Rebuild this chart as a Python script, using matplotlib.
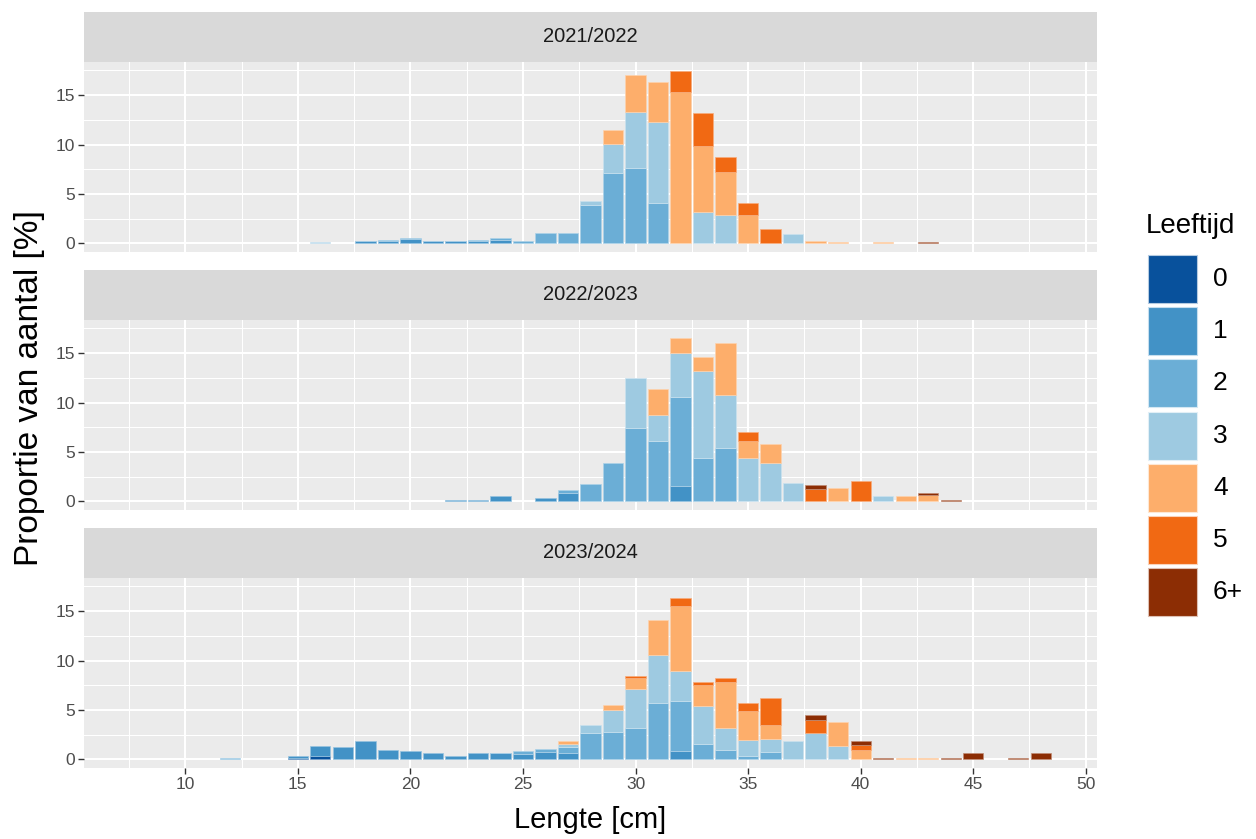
import matplotlib.pyplot as plt
from matplotlib.colors import to_rgb
from matplotlib.patches import Rectangle
import numpy as np

plt.rcParams['font.family'] = ['Liberation Sans', 'DejaVu Sans']

seasons = ['2021/2022', '2022/2023', '2023/2024']
ages = ['0', '1', '2', '3', '4', '5', '6+']
age_colors = ['#08519C', '#4292C6', '#6BAED6', '#9ECAE1', '#FDAE6B', '#F16913', '#8C2D04']

# share of numbers (%) per length class in cm, split over ages 0, 1, 2, 3, 4, 5, 6+
props_2122 = {
    16: [0, 0, 0, 0.10, 0, 0, 0],
    18: [0, 0.20, 0.05, 0, 0, 0, 0],
    19: [0, 0.28, 0.05, 0, 0, 0, 0],
    20: [0, 0.45, 0.05, 0, 0, 0, 0],
    21: [0, 0.22, 0.05, 0, 0, 0, 0],
    22: [0, 0.22, 0.05, 0, 0, 0, 0],
    23: [0, 0.20, 0.10, 0, 0, 0, 0],
    24: [0, 0.35, 0.15, 0, 0, 0, 0],
    25: [0, 0, 0.20, 0, 0, 0, 0],
    26: [0, 0, 1.00, 0, 0, 0, 0],
    27: [0, 0, 1.07, 0, 0, 0, 0],
    28: [0, 0, 3.93, 0.37, 0, 0, 0],
    29: [0, 0, 7.15, 2.88, 1.45, 0, 0],
    30: [0, 0, 7.58, 5.68, 3.79, 0, 0],
    31: [0, 0, 4.06, 8.22, 4.10, 0, 0],
    32: [0, 0, 0, 0, 15.30, 2.18, 0],
    33: [0, 0, 0, 3.22, 6.61, 3.32, 0],
    34: [0, 0, 0, 2.85, 4.33, 1.51, 0],
    35: [0, 0, 0, 0, 2.92, 1.17, 0],
    36: [0, 0, 0, 0, 0, 1.44, 0],
    37: [0, 0, 0, 0.90, 0, 0, 0],
    38: [0, 0, 0, 0, 0.20, 0, 0],
    39: [0, 0, 0, 0, 0.10, 0, 0],
    41: [0, 0, 0, 0, 0.13, 0, 0],
    43: [0, 0, 0, 0, 0, 0, 0.10],
}

props_2223 = {
    22: [0, 0.17, 0, 0, 0, 0, 0],
    23: [0, 0.17, 0, 0, 0, 0, 0],
    24: [0, 0.50, 0, 0, 0, 0, 0],
    26: [0, 0.34, 0, 0, 0, 0, 0],
    27: [0, 0.84, 0.33, 0, 0, 0, 0],
    28: [0, 0, 1.78, 0, 0, 0, 0],
    29: [0, 0, 3.90, 0, 0, 0, 0],
    30: [0, 0, 7.38, 5.10, 0, 0, 0],
    31: [0, 0, 6.14, 2.62, 2.58, 0, 0],
    32: [0, 1.54, 9.03, 4.46, 1.55, 0, 0],
    33: [0, 0, 4.43, 8.72, 1.48, 0, 0],
    34: [0, 0, 5.37, 5.40, 5.30, 0, 0],
    35: [0, 0, 0, 4.43, 1.67, 0.91, 0],
    36: [0, 0, 0, 3.89, 1.95, 0, 0],
    37: [0, 0, 0, 1.81, 0, 0, 0],
    38: [0, 0, 0, 0, 0, 1.21, 0.45],
    39: [0, 0, 0, 0, 1.31, 0, 0],
    40: [0, 0, 0, 0, 0, 2.11, 0],
    41: [0, 0, 0, 0.50, 0, 0, 0],
    42: [0, 0, 0, 0, 0.50, 0, 0],
    43: [0, 0, 0, 0, 0.60, 0, 0.24],
    44: [0, 0, 0, 0, 0, 0, 0.17],
}

props_2324 = {
    12: [0, 0, 0.13, 0, 0, 0, 0],
    15: [0.12, 0.25, 0, 0, 0, 0, 0],
    16: [0.34, 0.97, 0, 0, 0, 0, 0],
    17: [0, 1.21, 0, 0, 0, 0, 0],
    18: [0, 1.85, 0, 0, 0, 0, 0],
    19: [0, 0.97, 0, 0, 0, 0, 0],
    20: [0, 0.87, 0, 0, 0, 0, 0],
    21: [0, 0.67, 0, 0, 0, 0, 0],
    22: [0, 0.34, 0, 0, 0, 0, 0],
    23: [0, 0.67, 0, 0, 0, 0, 0],
    24: [0, 0.60, 0.07, 0, 0, 0, 0],
    25: [0, 0.54, 0.33, 0, 0, 0, 0],
    26: [0, 0.74, 0.30, 0, 0, 0, 0],
    27: [0, 0.60, 0.64, 0.34, 0.23, 0, 0],
    28: [0, 0, 2.62, 0.90, 0, 0, 0],
    29: [0, 0, 2.75, 2.22, 0.53, 0, 0],
    30: [0, 0, 3.15, 3.96, 1.11, 0.24, 0],
    31: [0, 0, 5.74, 4.83, 3.53, 0, 0],
    32: [0, 0.80, 5.14, 3.02, 6.61, 0.73, 0],
    33: [0, 0, 1.51, 3.86, 2.11, 0.34, 0],
    34: [0, 0, 0.97, 2.25, 4.60, 0.40, 0],
    35: [0, 0, 0.34, 1.67, 2.86, 0.80, 0],
    36: [0, 0, 0.74, 1.37, 1.38, 2.72, 0],
    37: [0, 0, 0, 1.85, 0, 0, 0],
    38: [0, 0, 0, 2.68, 0, 1.35, 0.47],
    39: [0, 0, 0, 1.31, 2.45, 0, 0],
    40: [0, 0, 0, 0, 0.97, 0.47, 0.44],
    41: [0, 0, 0, 0, 0, 0, 0.13],
    42: [0, 0, 0, 0, 0.13, 0, 0],
    43: [0, 0, 0, 0, 0.13, 0, 0],
    44: [0, 0, 0, 0, 0, 0, 0.15],
    45: [0, 0, 0, 0, 0, 0, 0.60],
    47: [0, 0, 0, 0, 0, 0, 0.15],
    48: [0, 0, 0, 0, 0, 0, 0.60],
}

all_props = [props_2122, props_2223, props_2324]


def tint(color, amount=0.45):
    rgb = np.array(to_rgb(color))
    return tuple(rgb + (1 - rgb) * amount)


def stacked_bars(ax, props):
    lengths = np.array(sorted(props))
    heights = np.array([props[l] for l in lengths])
    bottom = np.zeros(len(lengths))
    for i, color in enumerate(age_colors):
        h = heights[:, i]
        keep = h > 0
        ax.bar(lengths[keep], h[keep], width=0.9, bottom=bottom[keep],
               color=color, edgecolor=tint(color), linewidth=0.5, zorder=3)
        bottom += h


def style_panel(ax, ymax, bottom_panel):
    ax.set_facecolor('#EBEBEB')
    ax.set_xlim(5.5, 50.5)
    ax.set_ylim(-0.05 * ymax, 1.05 * ymax)
    ax.set_xticks(range(10, 51, 5))
    ax.set_xticks(np.arange(7.5, 50, 5), minor=True)
    ax.set_yticks([0, 5, 10, 15])
    ax.set_yticks([2.5, 7.5, 12.5, 17.5], minor=True)
    ax.grid(which='major', color='white', linewidth=1.5, zorder=0)
    ax.grid(which='minor', color='white', linewidth=0.75, zorder=0)
    ax.set_axisbelow(True)
    for spine in ax.spines.values():
        spine.set_visible(False)
    ax.tick_params(which='minor', length=0)
    ax.tick_params(which='major', length=4, width=1.0, color='#333333',
                   labelcolor='#4D4D4D', labelsize=12.5, pad=2.5)
    if not bottom_panel:
        ax.tick_params(axis='x', length=0, labelbottom=False)


W, H = 1256, 839
fig = plt.figure(figsize=(W / 100, H / 100), dpi=100)

left, right = 84, 1097
panel_tops = [62, 320, 578]
panel_h = 190
strip_h = 50

ymax = max(sum(v) for props in all_props for v in props.values())

for k, (season, props) in enumerate(zip(seasons, all_props)):
    top = panel_tops[k]
    ax = fig.add_axes([left / W, 1 - (top + panel_h) / H, (right - left) / W, panel_h / H])
    stacked_bars(ax, props)
    style_panel(ax, ymax, k == len(seasons) - 1)

    strip = fig.add_axes([left / W, 1 - top / H, (right - left) / W, strip_h / H])
    strip.set_facecolor('#D9D9D9')
    strip.set_xticks([])
    strip.set_yticks([])
    for spine in strip.spines.values():
        spine.set_visible(False)
    strip.text(0.5, 0.5, season, ha='center', va='center', fontsize=14.5,
               color='#1A1A1A', transform=strip.transAxes)

fig.text((left + right) / 2 / W, 1 - 820 / H, 'Lengte [cm]', ha='center', va='center',
         fontsize=21, color='black')
fig.text(30 / W, 1 - 388 / H, 'Proportie van aantal [%]', ha='center', va='center',
         rotation=90, fontsize=24, color='black')

# legend drawn in pixel coordinates
lg = fig.add_axes([0, 0, 1, 1])
lg.set_xlim(0, W)
lg.set_ylim(H, 0)
lg.axis('off')
lg.text(1146, 226, 'Leeftijd', ha='left', va='center', fontsize=20, color='black')
key_x, key_w, key_h, key_step, key_top = 1148, 49, 48, 52.2, 255
for i, (age, color) in enumerate(zip(ages, age_colors)):
    y0 = key_top + i * key_step
    lg.add_patch(Rectangle((key_x, y0), key_w, key_h, facecolor=color,
                           edgecolor=tint(color, 0.7), linewidth=0.8))
    lg.text(1213, y0 + key_h / 2, age, ha='left', va='center', fontsize=19, color='black')

fig.savefig('out.png', dpi=100, facecolor='white')
